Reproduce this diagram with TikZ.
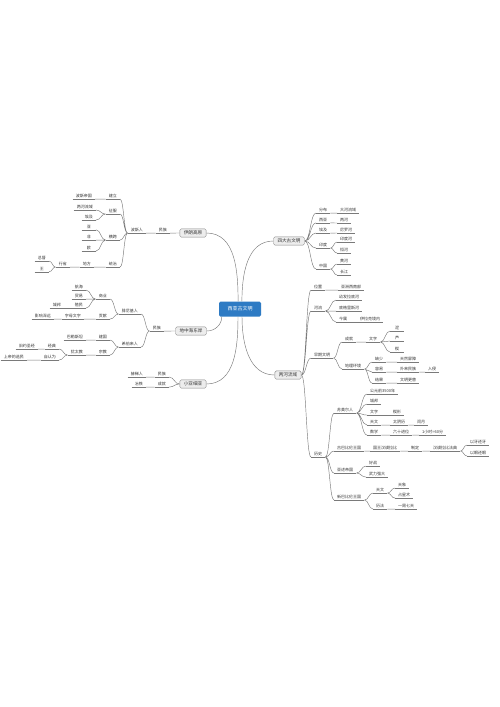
\documentclass[tikz,border=0pt]{standalone}
\usepackage{fontspec}
\setmainfont{Noto Sans CJK SC}
\usetikzlibrary{calc, positioning}

\definecolor{linegray}{HTML}{7A7A7A}
\definecolor{boxgray}{HTML}{EDEDED}
\definecolor{boxline}{HTML}{8A8A8A}
\definecolor{rootblue}{HTML}{2E7BC4}
\definecolor{textgray}{HTML}{333333}

\tikzset{
  conn/.style={draw=linegray, line width=0.45pt},
  cv/.style={to path={.. controls ($(\tikztostart)!0.5!(\tikztostart -| \tikztotarget)$) and ($(\tikztotarget)!0.5!(\tikztotarget -| \tikztostart)$) .. (\tikztotarget)}},
  leaf/.style={inner xsep=3pt, inner ysep=1pt, minimum width=14pt, text=textgray,
    font=\fontsize{4}{4.8}\selectfont,
    append after command={(\tikzlastnode.south west) edge[conn] (\tikzlastnode.south east)}},
  lr/.style={leaf, anchor=west},
  ll/.style={leaf, anchor=east},
  topic/.style={draw=boxline, fill=boxgray, line width=0.45pt, rounded corners=1.5pt,
    inner xsep=4pt, inner ysep=2pt, text=textgray, font=\fontsize{4.6}{5.5}\selectfont},
  rootbox/.style={fill=rootblue, rounded corners=1.5pt, minimum width=42pt, minimum height=15pt,
    text=white, font=\fontsize{5}{6}\selectfont},
}

\begin{document}
\begin{tikzpicture}[x=1pt, y=-1pt]

  \fill[white] (0,0) rectangle (500,707);
  \useasboundingbox (0,0) rectangle (500,707);

  % root and main topics
  \node[rootbox] (root) at (240,309) {西亚古文明};
  \node[topic] (iran)  at (193,233) {伊朗高原};
  \node[topic] (four)  at (289,241) {四大古文明};
  \node[topic] (med)   at (191,331) {地中海东岸};
  \node[topic] (meso)  at (288,375) {两河流域};
  \node[topic] (asia)  at (193,384) {小亚细亚};

  \draw[conn] (root.104) to[out=90, in=0] (iran.east);
  \draw[conn] (root.76) to[out=90, in=180] (four.west);
  \draw[conn] ([xshift=3pt]root.south west) to[out=-90, in=0] (med.east);
  \draw[conn] ([xshift=-2pt]root.south) to[out=-90, in=0] (asia.east);
  \draw[conn] ([xshift=2pt]root.south) to[out=-90, in=180] (meso.west);

  % iran
  \node[ll] (iran-ppl) at (170,230) {民族};
  \node[ll] (persian)  at (146,230) {波斯人};
  \node[ll] (p-build)  at (120,196) {建立};
  \node[ll] (p-empire) at (95,196)  {波斯帝国};
  \node[ll] (p-conq)   at (120,211) {征服};
  \node[ll] (p-meso)   at (96,207)  {两河流域};
  \node[ll] (p-egypt)  at (96,217)  {埃及};
  \node[ll] (p-span)   at (120,237) {横跨};
  \node[ll] (p-asia)   at (96,227)  {亚};
  \node[ll] (p-africa) at (96,237)  {非};
  \node[ll] (p-europe) at (96,248)  {欧};
  \node[ll] (p-rule)   at (120,264) {统治};
  \node[ll] (p-local)  at (94,264)  {地方};
  \node[ll] (p-prov)   at (70,264)  {行省};
  \node[ll] (p-gov)    at (49,258)  {总督};
  \node[ll] (p-king)   at (49,269)  {王};

  \draw[conn] (iran.west) to[cv] (iran-ppl.south east);
  \draw[conn] (iran-ppl.south west) to[cv] (persian.south east);
  \draw[conn] (persian.south west) to[cv] (p-build.south east)
              (persian.south west) to[cv] (p-conq.south east)
              (persian.south west) to[cv] (p-span.south east)
              (persian.south west) to[cv] (p-rule.south east);
  \draw[conn] (p-build.south west) to[cv] (p-empire.south east);
  \draw[conn] (p-conq.south west) to[cv] (p-meso.south east)
              (p-conq.south west) to[cv] (p-egypt.south east);
  \draw[conn] (p-span.south west) to[cv] (p-asia.south east)
              (p-span.south west) to[cv] (p-africa.south east)
              (p-span.south west) to[cv] (p-europe.south east);
  \draw[conn] (p-rule.south west) to[cv] (p-local.south east);
  \draw[conn] (p-local.south west) to[cv] (p-prov.south east);
  \draw[conn] (p-prov.south west) to[cv] (p-gov.south east)
              (p-prov.south west) to[cv] (p-king.south east);

  % four old civilizations
  \node[lr] (f-loc)  at (316,210) {分布};
  \node[lr] (f-loc2) at (337,210) {大河流域};
  \node[lr] (f-wa)   at (316,220) {西亚};
  \node[lr] (f-wa2)  at (337,220) {两河};
  \node[lr] (f-eg)   at (316,230) {埃及};
  \node[lr] (f-eg2)  at (337,230) {尼罗河};
  \node[lr] (f-in)   at (316,245) {印度};
  \node[lr] (f-in2)  at (337,239) {印度河};
  \node[lr] (f-in3)  at (337,250) {恒河};
  \node[lr] (f-cn)   at (316,266) {中国};
  \node[lr] (f-cn2)  at (337,261) {黄河};
  \node[lr] (f-cn3)  at (337,272) {长江};

  \draw[conn] (four.east) to[cv] (f-loc.south west)
              (four.east) to[cv] (f-wa.south west)
              (four.east) to[cv] (f-eg.south west)
              (four.east) to[cv] (f-in.south west)
              (four.east) to[cv] (f-cn.south west);
  \draw[conn] (f-loc.south east) to[cv] (f-loc2.south west);
  \draw[conn] (f-wa.south east) to[cv] (f-wa2.south west);
  \draw[conn] (f-eg.south east) to[cv] (f-eg2.south west);
  \draw[conn] (f-in.south east) to[cv] (f-in2.south west)
              (f-in.south east) to[cv] (f-in3.south west);
  \draw[conn] (f-cn.south east) to[cv] (f-cn2.south west)
              (f-cn.south east) to[cv] (f-cn3.south west);

  % mesopotamia
  \node[lr] (m-loc)   at (311,287) {位置};
  \node[lr] (m-loc2)  at (338,287) {亚洲西南部};
  \node[lr] (m-river) at (311,308) {河流};
  \node[lr] (m-eup)   at (336,297) {幼发拉底河};
  \node[lr] (m-tig)   at (336,308) {底格里斯河};
  \node[lr] (m-now)   at (336,319) {今属};
  \node[lr] (m-now2)  at (357,319) {伊拉克境内};
  \node[lr] (m-early) at (311,355) {早期文明};
  \node[lr] (m-ach)   at (342,339) {成就};
  \node[lr] (m-wri)   at (366,339) {文字};
  \node[lr] (m-w1)    at (390,328) {泥};
  \node[lr] (m-w2)    at (390,338) {芦};
  \node[lr] (m-w3)    at (390,349) {楔};
  \node[lr] (m-geo)   at (342,366) {地理环境};
  \node[lr] (m-g1)    at (372,359) {缺少};
  \node[lr] (m-g1b)   at (397,359) {天然屏障};
  \node[lr] (m-g2)    at (372,369) {容易};
  \node[lr] (m-g2b)   at (397,369) {外来民族};
  \node[lr] (m-g2c)   at (425,369) {入侵};
  \node[lr] (m-g3)    at (372,380) {结果};
  \node[lr] (m-g3b)   at (397,380) {文明更替};

  \draw[conn] (meso.east) to[cv] (m-loc.south west)
              (meso.east) to[cv] (m-river.south west)
              (meso.east) to[cv] (m-early.south west);
  \draw[conn] (m-loc.south east) to[cv] (m-loc2.south west);
  \draw[conn] (m-river.south east) to[cv] (m-eup.south west)
              (m-river.south east) to[cv] (m-tig.south west)
              (m-river.south east) to[cv] (m-now.south west);
  \draw[conn] (m-now.south east) to[cv] (m-now2.south west);
  \draw[conn] (m-early.south east) to[cv] (m-ach.south west)
              (m-early.south east) to[cv] (m-geo.south west);
  \draw[conn] (m-ach.south east) to[cv] (m-wri.south west);
  \draw[conn] (m-wri.south east) to[cv] (m-w1.south west)
              (m-wri.south east) to[cv] (m-w2.south west)
              (m-wri.south east) to[cv] (m-w3.south west);
  \draw[conn] (m-geo.south east) to[cv] (m-g1.south west)
              (m-geo.south east) to[cv] (m-g2.south west)
              (m-geo.south east) to[cv] (m-g3.south west);
  \draw[conn] (m-g1.south east) to[cv] (m-g1b.south west);
  \draw[conn] (m-g2.south east) to[cv] (m-g2b.south west);
  \draw[conn] (m-g2b.south east) to[cv] (m-g2c.south west);
  \draw[conn] (m-g3.south east) to[cv] (m-g3b.south west);

  % history of the two rivers
  \node[lr] (m-hist)  at (311,454) {历史};
  \node[lr] (sumer)   at (334,410) {苏美尔人};
  \node[lr] (s-time)  at (367,391) {公元前3500年};
  \node[lr] (s-city)  at (367,401) {城邦};
  \node[lr] (s-wri)   at (367,412) {文字};
  \node[lr] (s-wri2)  at (390,412) {楔形};
  \node[lr] (s-ast)   at (367,422) {天文};
  \node[lr] (s-ast2)  at (390,422) {太阴历};
  \node[lr] (s-ast3)  at (414,422) {闰月};
  \node[lr] (s-math)  at (367,432) {数学};
  \node[lr] (s-math2) at (390,432) {六十进位};
  \node[lr] (s-math3) at (419,432) {1小时=60分};
  \node[lr] (babylon) at (334,448) {古巴比伦王国};
  \node[lr] (b-king)  at (370,448) {国王汉谟拉比};
  \node[lr] (b-make)  at (408,448) {制定};
  \node[lr] (b-code)  at (430,448) {汉谟拉比法典};
  \node[lr] (b-c1)    at (467,442) {以牙还牙};
  \node[lr] (b-c2)    at (467,453) {以眼还眼};
  \node[lr] (assyria) at (334,470) {亚述帝国};
  \node[lr] (a-war)   at (366,463) {好战};
  \node[lr] (a-arm)   at (366,474) {武力强大};
  \node[lr] (newbab)  at (334,497) {新巴比伦王国};
  \node[lr] (n-ast)   at (373,490) {天文};
  \node[lr] (n-sky)   at (395,485) {天象};
  \node[lr] (n-star)  at (395,495) {占星术};
  \node[lr] (n-cal)   at (373,506) {历法};
  \node[lr] (n-week)  at (395,506) {一周七天};

  \draw[conn] (meso.east) to[cv] (m-hist.south west);
  \draw[conn] (m-hist.south east) to[cv] (sumer.south west)
              (m-hist.south east) to[cv] (babylon.south west)
              (m-hist.south east) to[cv] (assyria.south west)
              (m-hist.south east) to[cv] (newbab.south west);
  \draw[conn] (sumer.south east) to[cv] (s-time.south west)
              (sumer.south east) to[cv] (s-city.south west)
              (sumer.south east) to[cv] (s-wri.south west)
              (sumer.south east) to[cv] (s-ast.south west)
              (sumer.south east) to[cv] (s-math.south west);
  \draw[conn] (s-wri.south east) to[cv] (s-wri2.south west);
  \draw[conn] (s-ast.south east) to[cv] (s-ast2.south west);
  \draw[conn] (s-ast2.south east) to[cv] (s-ast3.south west);
  \draw[conn] (s-math.south east) to[cv] (s-math2.south west);
  \draw[conn] (s-math2.south east) to[cv] (s-math3.south west);
  \draw[conn] (babylon.south east) to[cv] (b-king.south west);
  \draw[conn] (b-king.south east) to[cv] (b-make.south west);
  \draw[conn] (b-make.south east) to[cv] (b-code.south west);
  \draw[conn] (b-code.south east) to[cv] (b-c1.south west)
              (b-code.south east) to[cv] (b-c2.south west);
  \draw[conn] (assyria.south east) to[cv] (a-war.south west)
              (assyria.south east) to[cv] (a-arm.south west);
  \draw[conn] (newbab.south east) to[cv] (n-ast.south west)
              (newbab.south east) to[cv] (n-cal.south west);
  \draw[conn] (n-ast.south east) to[cv] (n-sky.south west)
              (n-ast.south east) to[cv] (n-star.south west);
  \draw[conn] (n-cal.south east) to[cv] (n-week.south west);

  % eastern mediterranean
  \node[ll] (med-ppl)  at (164,328) {民族};
  \node[ll] (phoen)    at (141,311) {腓尼基人};
  \node[ll] (hebrew)   at (141,344) {希伯来人};
  \node[ll] (ph-trade) at (110,296) {商业};
  \node[ll] (ph-sea)   at (86,287)  {航海};
  \node[ll] (ph-buy)   at (86,296)  {贸易};
  \node[ll] (ph-col)   at (86,305)  {殖民};
  \node[ll] (ph-col2)  at (64,305)  {城邦};
  \node[ll] (ph-gift)  at (110,316) {贡献};
  \node[ll] (ph-abc)   at (84,316)  {字母文字};
  \node[ll] (ph-abc2)  at (54,316)  {影响深远};
  \node[ll] (hb-state) at (110,337) {建国};
  \node[ll] (hb-land)  at (86,337)  {巴勒斯坦};
  \node[ll] (hb-rel)   at (110,352) {宗教};
  \node[ll] (hb-jud)   at (86,352)  {犹太教};
  \node[ll] (hb-book)  at (59,346)  {经典};
  \node[ll] (hb-book2) at (38,346)  {旧约圣经};
  \node[ll] (hb-self)  at (59,357)  {自认为};
  \node[ll] (hb-self2) at (27,357)  {上帝的选民};

  \draw[conn] (med.west) to[cv] (med-ppl.south east);
  \draw[conn] (med-ppl.south west) to[cv] (phoen.south east)
              (med-ppl.south west) to[cv] (hebrew.south east);
  \draw[conn] (phoen.south west) to[cv] (ph-trade.south east)
              (phoen.south west) to[cv] (ph-gift.south east);
  \draw[conn] (ph-trade.south west) to[cv] (ph-sea.south east)
              (ph-trade.south west) to[cv] (ph-buy.south east)
              (ph-trade.south west) to[cv] (ph-col.south east);
  \draw[conn] (ph-col.south west) to[cv] (ph-col2.south east);
  \draw[conn] (ph-gift.south west) to[cv] (ph-abc.south east);
  \draw[conn] (ph-abc.south west) to[cv] (ph-abc2.south east);
  \draw[conn] (hebrew.south west) to[cv] (hb-state.south east)
              (hebrew.south west) to[cv] (hb-rel.south east);
  \draw[conn] (hb-state.south west) to[cv] (hb-land.south east);
  \draw[conn] (hb-rel.south west) to[cv] (hb-jud.south east);
  \draw[conn] (hb-jud.south west) to[cv] (hb-book.south east)
              (hb-jud.south west) to[cv] (hb-self.south east);
  \draw[conn] (hb-book.south west) to[cv] (hb-book2.south east);
  \draw[conn] (hb-self.south west) to[cv] (hb-self2.south east);

  % asia minor
  \node[ll] (as-ppl)  at (169,374) {民族};
  \node[ll] (hittite) at (146,374) {赫梯人};
  \node[ll] (as-ach)  at (169,384) {成就};
  \node[ll] (as-iron) at (146,384) {冶铁};

  \draw[conn] (asia.west) to[cv] (as-ppl.south east)
              (asia.west) to[cv] (as-ach.south east);
  \draw[conn] (as-ppl.south west) to[cv] (hittite.south east);
  \draw[conn] (as-ach.south west) to[cv] (as-iron.south east);

\end{tikzpicture}
\end{document}
